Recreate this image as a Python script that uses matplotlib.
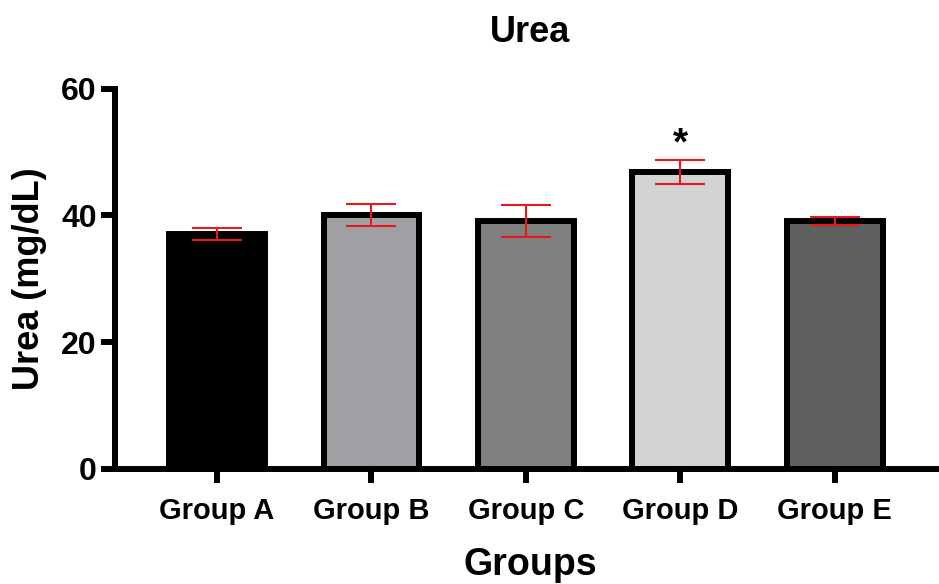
import numpy as np
import matplotlib.pyplot as plt

plt.rcParams['font.family'] = ['Liberation Sans', 'DejaVu Sans']
plt.rcParams['font.weight'] = 'bold'

# Data
groups = ['Group A', 'Group B', 'Group C', 'Group D', 'Group E']
urea = [37.1, 40.1, 39.1, 46.85, 39.1]
sem = [0.9, 1.7, 2.5, 1.85, 0.6]
colors = ['#000000', '#A0A0A4', '#808080', '#D3D3D3', '#606060']
signif = ['', '', '', '*', '']

fig = plt.figure(figsize=(9.39, 5.84), dpi=100)
ax = fig.add_axes([0.1225, 0.197, 0.875, 0.651])

x = np.arange(len(groups))
ax.bar(x, urea, width=0.62, color=colors, edgecolor='black', linewidth=4.3, zorder=2)
ax.errorbar(x, urea, yerr=sem, fmt='none', ecolor='#E8191E', elinewidth=1.5,
            capsize=18, capthick=1.5, zorder=3)

for xi, v, e, s in zip(x, urea, sem, signif):
    if s:
        ax.text(xi, v + e - 0.4, s, ha='center', va='bottom', fontsize=28, fontweight='bold')

ax.set_xlim(-0.66, 4.66)
ax.set_ylim(0, 60)
ax.set_yticks([0, 20, 40, 60])
ax.set_xticks(x)
ax.set_xticklabels(groups)

for side in ['top', 'right']:
    ax.spines[side].set_visible(False)
for side in ['left', 'bottom']:
    ax.spines[side].set_linewidth(4.3)
ax.spines['left'].set_bounds(0, 60)

ax.tick_params(axis='y', length=10, width=4.3, labelsize=23, pad=3)
ax.tick_params(axis='x', length=10, width=4.3, labelsize=21, pad=10)
for lab in ax.get_xticklabels() + ax.get_yticklabels():
    lab.set_fontweight('bold')

ax.set_title('Urea', fontsize=26, fontweight='bold', pad=34, x=0.505)
ax.set_xlabel('Groups', fontsize=27, fontweight='bold', labelpad=16, x=0.505)
ax.set_ylabel('Urea (mg/dL)', fontsize=26, fontweight='bold', labelpad=10)

fig.savefig('out.png', dpi=100)
